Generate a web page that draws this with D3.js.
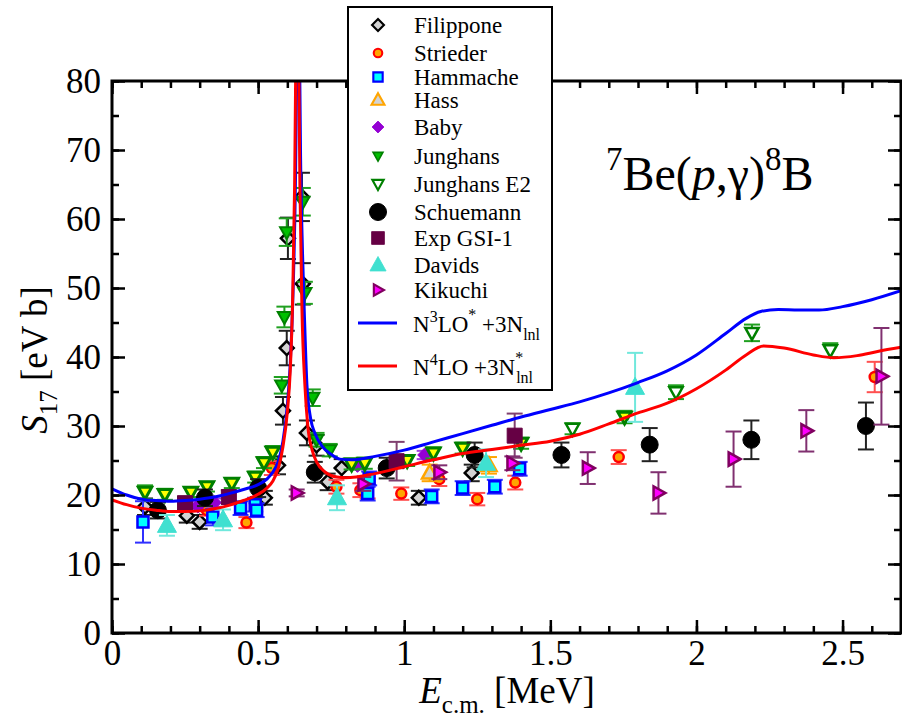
<!DOCTYPE html>
<html><head><meta charset="utf-8">
<script src="https://cdn.jsdelivr.net/npm/d3@7"></script>
<style>
body{margin:0;background:#fff;}
svg{display:block;font-family:"Liberation Serif","Times New Roman",serif;}
</style></head>
<body><svg id="c" width="902" height="721"></svg>
<script>
// ---- data: [E (MeV), S17 (eV b), error] ----
const filippone = [[0.113,18.3,1.2],[0.256,17.0,1.0],[0.30,16.1,1.0],[0.523,19.6,1.0],[0.568,24.3,1.3],[0.585,32.2,2.0],[0.598,41.3,2.5],[0.602,57.2,3.0],[0.650,63.2,3.5],[0.653,50.6,3.0],[0.667,29.0,1.8],[0.70,27.2,1.5],[0.738,21.9,1.2],[0.786,23.9,1.3],[1.05,19.6,1.0],[1.231,23.2,1.2]];
const strieder = [[0.325,17.8,0.8],[0.46,16.0,0.8],[0.547,23.9,1.0],[0.768,21.2,1.0],[0.85,20.7,1.0],[0.875,20.5,1.0],[0.99,20.2,0.9],[1.12,22.3,1.0],[1.25,19.4,0.9],[1.38,21.8,1.0],[1.734,25.5,1.0],[2.61,37.1,2.2]];
const hammache = [[0.106,16.1,3.0],[0.345,16.8,1.2],[0.44,18.1,1.0],[0.49,18.6,1.0],[0.495,17.8,1.0],[0.875,20.2,1.0],[0.88,22.4,1.0],[1.094,19.8,1.0],[1.2,21.0,1.0],[1.31,21.2,1.0],[1.395,23.8,1.0]];
const hass = [[1.087,23.2,1.2],[1.29,24.3,1.2]];
const baby = [[0.294,18.4,0.6],[0.35,18.9,0.6],[0.84,24.3,0.6],[1.07,25.8,0.6]];
const junghansLow = [[0.113,20.4,1.0],[0.181,20.1,0.8],[0.27,20.4,0.7],[0.325,21.2,0.7],[0.41,21.7,0.7],[0.49,22.6,0.8],[0.52,24.7,0.8],[0.55,26.2,0.9],[0.82,24.5,0.8],[0.865,24.6,0.8],[1.01,25.0,0.8],[1.10,26.1,0.8],[1.20,26.8,0.8],[1.40,27.5,0.8],[1.754,31.3,0.9]];
const junghansPeak = [[0.581,35.9,1.2],[0.59,45.8,1.5],[0.598,58.1,2.0],[0.653,62.5,2.0],[0.66,49.3,1.6],[0.687,34.1,1.2],[0.70,28.0,1.0],[0.745,26.5,0.9]];
const junghansE2 = [[1.576,29.6,0.8],[1.93,34.9,1.0],[2.19,43.5,1.2],[2.458,41.0,1.0]];
const schuemann = [[0.157,17.8,1.2],[0.318,19.6,1.2],[0.50,21.0,1.3],[0.694,23.3,1.5],[0.94,23.9,1.5],[1.241,25.8,1.8],[1.538,25.8,1.8],[1.84,27.3,2.4],[2.188,28.0,2.8],[2.58,30.0,3.4]];
const gsi = [[0.25,18.8,1.0],[0.40,19.7,1.0],[0.974,24.9,2.8],[1.378,28.6,3.2]];
const davids = [[0.188,15.6,1.5],[0.38,16.4,1.5],[0.77,19.6,1.8],[1.28,24.6,2.0],[1.79,35.6,5.0]];
const kikuchi = [[0.632,20.3,0.5],[0.86,21.6,1.0],[1.12,23.3,1.0],[1.37,24.6,1.0],[1.628,23.9,2.3],[1.87,20.3,3.0],[2.127,25.2,4.0],[2.376,29.3,3.0],[2.633,37.2,7.0]];
// theory curves [E, S17]
const n3lo = [[0,20.9],[0.05,20.0],[0.1,19.4],[0.15,19.2],[0.2,19.1],[0.25,19.2],[0.3,19.4],[0.35,19.7],[0.4,20.2],[0.45,20.8],[0.5,21.5],[0.53,22.3],[0.55,23.3],[0.57,25.0],[0.585,27.8],[0.6,33],[0.61,39],[0.62,50],[0.628,66],[0.633,85],[0.637,100],[0.641,88],[0.645,70],[0.652,55],[0.66,44],[0.667,36],[0.68,31],[0.694,29],[0.72,27.0],[0.75,25.9],[0.78,25.2],[0.82,25.1],[0.9,25.6],[1.0,26.5],[1.1,27.7],[1.2,28.9],[1.3,30.1],[1.4,31.3],[1.5,32.4],[1.6,33.5],[1.7,34.8],[1.8,36.3],[1.9,38.0],[2.0,40.3],[2.1,43.4],[2.17,45.6],[2.22,46.6],[2.28,46.9],[2.35,46.8],[2.42,46.8],[2.5,47.3],[2.6,48.3],[2.7,49.6]];
const n4lo = [[0,19.3],[0.05,18.6],[0.1,18.1],[0.15,17.8],[0.2,17.6],[0.25,17.6],[0.3,17.7],[0.35,18.0],[0.4,18.5],[0.45,19.2],[0.5,20.1],[0.53,21.0],[0.55,22.0],[0.57,24.0],[0.585,27],[0.6,32],[0.61,38],[0.618,48],[0.625,65],[0.63,88],[0.634,105],[0.638,88],[0.643,65],[0.65,47],[0.66,36],[0.67,30],[0.685,26.5],[0.7,24.8],[0.73,23.3],[0.77,22.6],[0.8,22.5],[0.9,23.1],[1.0,24.1],[1.1,25.1],[1.2,26.0],[1.3,26.6],[1.4,27.2],[1.5,27.8],[1.6,28.8],[1.7,30.3],[1.8,31.9],[1.9,33.3],[2.0,35.4],[2.1,38.1],[2.17,40.3],[2.23,41.6],[2.3,41.3],[2.4,40.3],[2.47,39.9],[2.55,40.2],[2.62,40.8],[2.7,41.4]];
const xTicks = [0,0.5,1,1.5,2,2.5];
const xTickLabels = ["0","0.5","1","1.5","2","2.5"];
const yTicks = [0,10,20,30,40,50,60,70,80];
const legendNames = ["Filippone","Strieder","Hammache","Hass","Baby","Junghans","Junghans E2","Schuemann","Exp GSI-1","Davids","Kikuchi"];

const svg = d3.select("#c");
const x = d3.scaleLinear().domain([0,2.7]).range([112,901]);
const y = d3.scaleLinear().domain([0,80]).range([633,81]);

svg.append("defs").append("clipPath").attr("id","clip").append("rect")
  .attr("x",112).attr("y",81).attr("width",789).attr("height",552);

function shape(type, r){
  switch(type){
    case "diamond": return `M0,${-r}L${r},0L0,${r}L${-r},0Z`;
    case "square": return `M${-r},${-r}H${r}V${r}H${-r}Z`;
    case "circle": return `M${r},0A${r},${r} 0 1,1 ${-r},0A${r},${r} 0 1,1 ${r},0Z`;
    case "triUp": return `M0,${-r}L${r*0.95},${r*0.7}L${-r*0.95},${r*0.7}Z`;
    case "triDown": return `M0,${r}L${r*0.95},${-r*0.7}L${-r*0.95},${-r*0.7}Z`;
    case "triRight": return `M${r},0L${-r*0.7},${r*0.95}L${-r*0.7},${-r*0.95}Z`;
  }
}

const series = [
  {data:filippone, type:"diamond", r:7, fill:"#d3d3d3", stroke:"#000", sw:2.5, ebar:"#222"},
  {data:strieder, type:"circle", r:5, fill:"#ffa500", stroke:"#ff0000", sw:2.5, ebar:"#ff5050"},
  {data:hammache, type:"square", r:5.5, fill:"#00ffff", stroke:"#0000ff", sw:2.5, ebar:"#3030ff"},
  {data:hass, type:"triUp", r:8, fill:"#d3d3d3", stroke:"#ffa500", sw:2.5, ebar:"#ffa500"},
  {data:baby, type:"diamond", r:7, fill:"#9400d3", stroke:"#9400d3", sw:1, ebar:"#a040e0"},
  {data:junghansLow, type:"triDown", r:7, fill:"#ffff00", stroke:"#008000", sw:3, ebar:"#20a020"},
  {data:junghansPeak, type:"triDown", r:7, fill:"#00c000", stroke:"#008000", sw:2, ebar:"#20a020"},
  {data:junghansE2, type:"triDown", r:7, fill:"#ffffff", stroke:"#008000", sw:2.5, ebar:"#20a020"},
  {data:schuemann, type:"circle", r:8.5, fill:"#000", stroke:"#000", sw:1, ebar:"#222"},
  {data:gsi, type:"square", r:7.5, fill:"#660044", stroke:"#660044", sw:1, ebar:"#804070"},
  {data:davids, type:"triUp", r:10, fill:"#40e0d0", stroke:"#40e0d0", sw:1, ebar:"#70e8dc"},
  {data:kikuchi, type:"triRight", r:7, fill:"#ff00ff", stroke:"#800060", sw:2.5, ebar:"#803070"}
];

const plot = svg.append("g").attr("clip-path","url(#clip)");

series.forEach(s=>{
  const g = plot.append("g");
  const eb = g.selectAll("g.eb").data(s.data).join("g").attr("stroke",s.ebar).attr("stroke-width",2).attr("fill","none");
  eb.append("line").attr("x1",d=>x(d[0])).attr("x2",d=>x(d[0])).attr("y1",d=>y(d[1]-d[2])).attr("y2",d=>y(d[1]+d[2]));
  eb.append("line").attr("x1",d=>x(d[0])-8).attr("x2",d=>x(d[0])+8).attr("y1",d=>y(d[1]-d[2])).attr("y2",d=>y(d[1]-d[2]));
  eb.append("line").attr("x1",d=>x(d[0])-8).attr("x2",d=>x(d[0])+8).attr("y1",d=>y(d[1]+d[2])).attr("y2",d=>y(d[1]+d[2]));
  g.selectAll("path").data(s.data).join("path")
    .attr("transform",d=>`translate(${x(d[0])},${y(d[1])})`)
    .attr("d",shape(s.type,s.r)).attr("fill",s.fill).attr("stroke",s.stroke).attr("stroke-width",s.sw);
});

const line = d3.line().x(d=>x(d[0])).y(d=>y(d[1])).curve(d3.curveMonotoneX);
plot.append("path").datum(n3lo).attr("d",line).attr("fill","none").attr("stroke","#0000ff").attr("stroke-width",3);
plot.append("path").datum(n4lo).attr("d",line).attr("fill","none").attr("stroke","#ff0000").attr("stroke-width",3);

// axes
const fs = 35;
function styleAxis(g){ g.select(".domain").remove(); g.selectAll("line").attr("stroke","#000").attr("stroke-width",2.5); g.selectAll("text").attr("font-size",fs).attr("font-family","Liberation Serif").attr("fill","#000"); }
const xMinor = d3.range(0,2.71,0.1).map(v=>+v.toFixed(2));
const yMinor = d3.range(0,81,5);
svg.append("g").attr("transform","translate(0,633)").call(d3.axisBottom(x).tickValues(xMinor).tickSize(-7).tickFormat("")).call(styleAxis);
svg.append("g").attr("transform","translate(0,633)").call(d3.axisBottom(x).tickValues(xTicks).tickSize(-13).tickPadding(7).tickFormat((d,i)=>xTickLabels[i])).call(styleAxis);
svg.append("g").attr("transform","translate(0,81)").call(d3.axisTop(x).tickValues(xMinor).tickSize(-7).tickFormat("")).call(styleAxis);
svg.append("g").attr("transform","translate(0,81)").call(d3.axisTop(x).tickValues(xTicks).tickSize(-13).tickFormat("")).call(styleAxis);
svg.append("g").attr("transform","translate(112,0)").call(d3.axisLeft(y).tickValues(yMinor).tickSize(-7).tickFormat("")).call(styleAxis);
svg.append("g").attr("transform","translate(112,0)").call(d3.axisLeft(y).tickValues(yTicks).tickSize(-13).tickPadding(11).tickFormat(d3.format("d"))).call(styleAxis);
svg.append("g").attr("transform","translate(901,0)").call(d3.axisRight(y).tickValues(yMinor).tickSize(-7).tickFormat("")).call(styleAxis);
svg.append("g").attr("transform","translate(901,0)").call(d3.axisRight(y).tickValues(yTicks).tickSize(-13).tickFormat("")).call(styleAxis);
svg.append("rect").attr("x",112).attr("y",81).attr("width",789).attr("height",552).attr("fill","none").attr("stroke","#000").attr("stroke-width",3);

// axis titles
const xt = svg.append("text").attr("x",507).attr("y",703).attr("text-anchor","middle").attr("font-size",37);
xt.append("tspan").attr("font-style","italic").text("E");
xt.append("tspan").attr("font-size",25).attr("dy",10).text("c.m.");
xt.append("tspan").attr("dy",-10).text(" [MeV]");
const yt = svg.append("text").attr("transform","translate(47,360) rotate(-90)").attr("text-anchor","middle").attr("font-size",37);
yt.append("tspan").attr("font-style","italic").text("S");
yt.append("tspan").attr("font-size",25).attr("dy",10).text("17");
yt.append("tspan").attr("dy",-10).text(" [eV b]");

// reaction label
const rl = svg.append("text").attr("x",606).attr("y",190).attr("font-size",48);
rl.append("tspan").attr("font-size",33).attr("dy",-20).text("7");
rl.append("tspan").attr("dy",20).text("Be(");
rl.append("tspan").attr("font-style","italic").text("p");
rl.append("tspan").text(",γ)");
rl.append("tspan").attr("font-size",33).attr("dy",-20).text("8");
rl.append("tspan").attr("dy",20).text("B");

// legend
const lg = svg.append("g");
lg.append("rect").attr("x",348).attr("y",7).attr("width",204).attr("height",383).attr("fill","#fff").attr("stroke","#000").attr("stroke-width",2);
const legSeries = [series[0],series[1],series[2],series[3],series[4],{type:"triDown",r:6,fill:"#00c000",stroke:"#008000",sw:2},series[7],series[8],series[9],series[10],series[11]];
const legY = [25,53,77,100,127,156,184,212,238,265,290];
legendNames.forEach((n,i)=>{
  const s = legSeries[i];
  const sc = (s.type==="circle" && s.r>6) ? 1 : 0.85;
  lg.append("path").attr("transform",`translate(378,${legY[i]}) scale(${sc})`).attr("d",shape(s.type,s.r)).attr("fill",s.fill).attr("stroke",s.stroke).attr("stroke-width",s.sw);
  lg.append("text").attr("x",414).attr("y",legY[i]+8).attr("font-size",23).text(n);
});
lg.append("line").attr("x1",358).attr("x2",397).attr("y1",323).attr("y2",323).attr("stroke","#0000ff").attr("stroke-width",3);
lg.append("line").attr("x1",358).attr("x2",397).attr("y1",366).attr("y2",366).attr("stroke","#ff0000").attr("stroke-width",3);
const t1 = lg.append("text").attr("x",413).attr("y",332).attr("font-size",23);
t1.append("tspan").text("N");
t1.append("tspan").attr("font-size",16).attr("dy",-10).text("3");
t1.append("tspan").attr("dy",10).text("LO");
t1.append("tspan").attr("font-size",16).attr("dy",-12).text("*");
t1.append("tspan").attr("dy",12).text(" +3N");
t1.append("tspan").attr("font-size",16).attr("dy",8).text("lnl");
const t2 = lg.append("text").attr("x",413).attr("y",375).attr("font-size",23);
t2.append("tspan").text("N");
t2.append("tspan").attr("font-size",16).attr("dy",-10).text("4");
t2.append("tspan").attr("dy",10).text("LO +3N");
t2.append("tspan").attr("font-size",16).attr("dy",-12).text("*");
t2.append("tspan").attr("font-size",16).attr("dx",-7).attr("dy",20).text("lnl");
</script></body></html>
